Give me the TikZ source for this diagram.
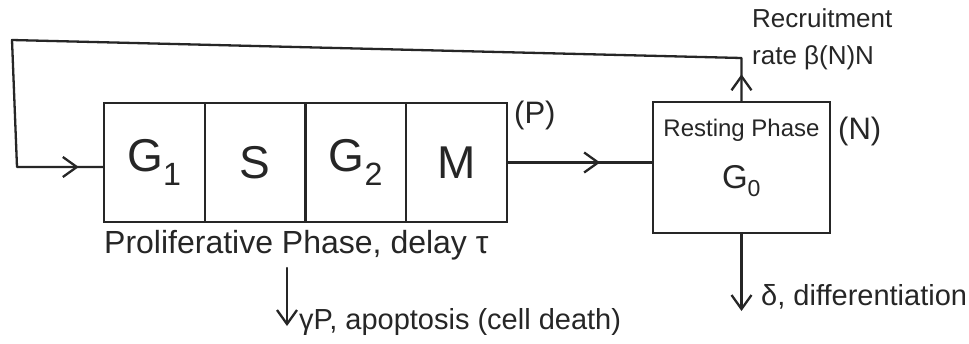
\documentclass[tikz,border=0pt]{standalone}
\usepackage{fontspec}
\setmainfont{Liberation Sans}
\usetikzlibrary{arrows.meta,decorations.markings}

\begin{document}
\begin{tikzpicture}[x=1pt,y=-1pt,
  >={Straight Barb[length=14pt,width=20pt]},
  line/.style={line width=2.3pt, line join=round, line cap=round, draw=black!85},
  cell/.style={draw=black!85, line width=2.3pt, minimum width=100.75pt, minimum height=119pt,
    inner sep=0pt, font=\fontsize{46}{50}\selectfont, text=black!85},
  midtip/.style={line width=2.3pt, postaction={decorate},
    decoration={markings, mark=at position #1 with {\arrow[black!85]{>}}}},
  lbl/.style={font=\fontsize{29}{34}\selectfont, inner sep=0pt, text=black!85},
]
% canvas
\fill[white] (0,0) rectangle (969,343);
\useasboundingbox (0,0) rectangle (969,343);

% proliferative phase: the four cell-cycle compartments
\node[cell] (g1) at (154.4,162.5) {G\textsubscript{1}};
\node[cell] (s)  at (255.1,162.5) {S};
\node[cell] (g2) at (355.9,162.5) {G\textsubscript{2}};
\node[cell] (m)  at (456.6,162.5) {M};

% resting phase box
\node[draw=black!85, line width=2.3pt, minimum width=177pt, minimum height=131pt] (rest) at (741.5,167.5) {};
\node[font=\fontsize{24}{28}\selectfont, text=black!85] (restlbl) at (741.5,130) {Resting Phase};
\node[font=\fontsize{33}{36}\selectfont, text=black!85] (g0) at (741.5,181) {G\textsubscript{0}};

% labels
\node[lbl, font=\fontsize{31}{34}\selectfont, anchor=west] (plbl) at (514,115) {(P)};
\node[lbl, font=\fontsize{31}{34}\selectfont, anchor=west] (nlbl) at (838,131) {(N)};
\node[lbl, font=\fontsize{32}{36}\selectfont, anchor=west] (prolif) at (104,245) {Proliferative Phase, delay τ};
\node[lbl, anchor=west] (apop) at (299,322) {γP, apoptosis (cell death)};
\node[lbl, anchor=west] (diff) at (761,297) {δ, differentiation};
\node[lbl, font=\fontsize{26}{30}\selectfont, anchor=base west] (recr1) at (752,27) {Recruitment};
\node[lbl, font=\fontsize{26}{30}\selectfont, anchor=base west] (recr2) at (752,64) {rate β(N)N};

% corner points of the recruitment loop
\coordinate (tr) at (741.5,58);
\coordinate (tl) at (12,40);
\coordinate (bl) at (17,167);
\coordinate (dend) at (741.5,311);
\coordinate (gtop) at (287,268);
\coordinate (gbot) at (287,326);

% M -> resting phase
\draw[line] (m.east) -- (m.east -| rest.west);
\path[midtip=0.64] (m.east) -- (m.east -| rest.west);

% recruitment back into G1
\draw[line] (rest.north) -- (tr) -- (tl) -- (bl) -- (bl -| g1.west);
\path[midtip=0.62] (rest.north) -- (tr);
\path[midtip=0.72] (bl) -- (bl -| g1.west);

% losses: differentiation and apoptosis
\draw[line, ->] (rest.south) -- (dend);
\draw[line, ->] (gtop) -- (gbot);
\end{tikzpicture}
\end{document}
